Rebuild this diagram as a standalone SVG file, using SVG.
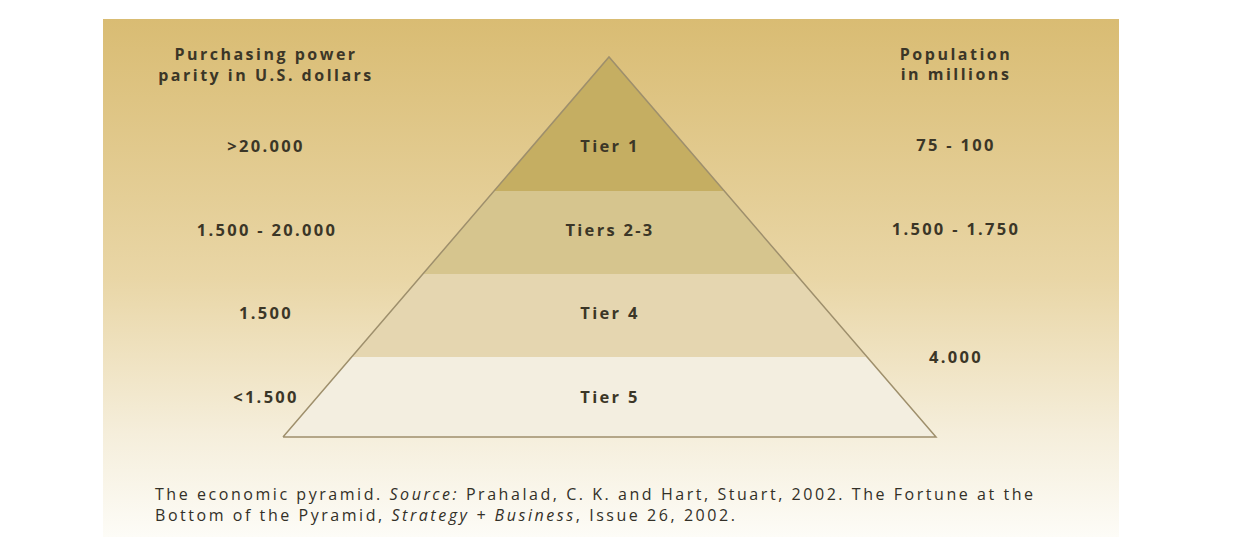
<svg xmlns="http://www.w3.org/2000/svg" width="1240" height="544" viewBox="0 0 1240 544">
<defs>
<linearGradient id="bg" x1="0" y1="0" x2="0" y2="1">
<stop offset="0" stop-color="#d9bc73"/>
<stop offset="0.5" stop-color="#e9d6a6"/>
<stop offset="0.8" stop-color="#f5eedb"/>
<stop offset="1" stop-color="#fdfcf7"/>
</linearGradient>
<style>
.lbl{font-family:"Open Sans","DejaVu Sans",sans-serif;font-weight:700;font-size:16.5px;fill:#3b3627;text-anchor:middle;letter-spacing:2.3px}
.hd{font-size:16px;letter-spacing:2.5px}
.cap{font-family:"Open Sans","DejaVu Sans",sans-serif;font-size:16px;fill:#333028;letter-spacing:2.55px}
.edge{fill:none;stroke:#9e8f6c;stroke-width:1.5}
</style>
</defs>
<rect x="0" y="0" width="1240" height="544" fill="#ffffff"/>
<rect x="103" y="19" width="1016" height="518" fill="url(#bg)"/>

<g id="tier1">
<polygon points="609,57 724,191 494,191" fill="#c5ae62"/>
<text class="lbl" x="610" y="152">Tier 1</text>
</g>
<g id="tier2-3">
<polygon points="494,191 724,191 795,274 423,274" fill="#d6c58e"/>
<text class="lbl" x="610" y="236">Tiers 2-3</text>
</g>
<g id="tier4">
<polygon points="423,274 795,274 866,357 352,357" fill="#e5d6b0"/>
<text class="lbl" x="610" y="319">Tier 4</text>
</g>
<g id="tier5">
<polygon points="352,357 866,357 936,437 283,437" fill="#f3eee0"/>
<text class="lbl" x="610" y="403">Tier 5</text>
</g>

<g id="connectors">
<polyline class="edge" points="283,437 609,57 936,437 283,437"/>
</g>

<g id="ppp-header">
<text class="lbl hd" x="266" y="60">Purchasing power</text>
<text class="lbl hd" x="266" y="81">parity in U.S. dollars</text>
</g>
<g id="ppp-values">
<text class="lbl" x="266" y="152">&gt;20.000</text>
<text class="lbl" x="267" y="236">1.500 - 20.000</text>
<text class="lbl" x="266" y="319">1.500</text>
<text class="lbl" x="266" y="403">&lt;1.500</text>
</g>
<g id="pop-header">
<text class="lbl hd" x="956" y="60">Population</text>
<text class="lbl hd" x="956" y="80">in millions</text>
</g>
<g id="pop-values">
<text class="lbl" x="956" y="151">75 - 100</text>
<text class="lbl" x="956" y="235">1.500 - 1.750</text>
<text class="lbl" x="956" y="363">4.000</text>
</g>

<g id="caption">
<text class="cap" x="155" y="500">The economic pyramid. <tspan font-style="italic">Source:</tspan> Prahalad, C. K. and Hart, Stuart, 2002. The Fortune at the</text>
<text class="cap" x="155" y="521">Bottom of the Pyramid, <tspan font-style="italic">Strategy + Business</tspan>, Issue 26, 2002.</text>
</g>
</svg>
